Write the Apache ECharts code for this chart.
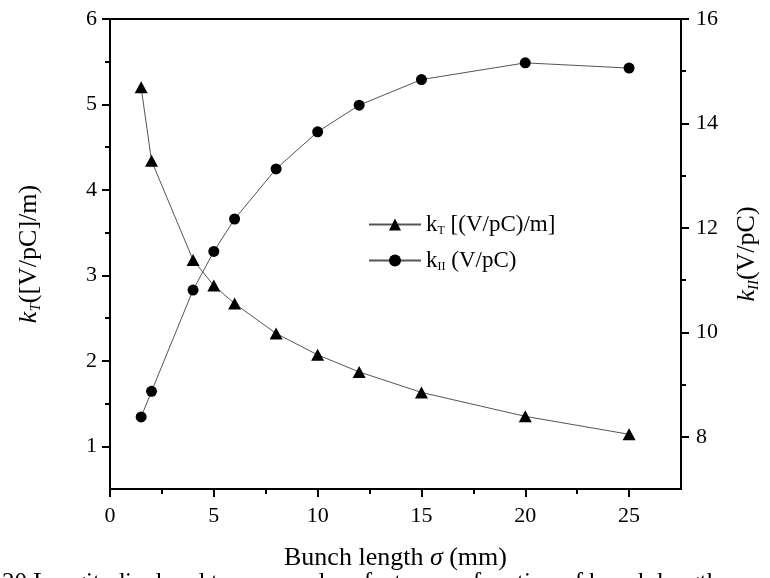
<!DOCTYPE html>
<html><head><meta charset="utf-8">
<script src="https://cdn.jsdelivr.net/npm/echarts@6/dist/echarts.min.js"></script>
<style>html,body{margin:0;padding:0;background:#fff}#c{width:770px;height:578px}</style>
</head><body><div id="c"></div>
<script>
const bunchLength = [1.5, 2, 4, 5, 6, 8, 10, 12, 15, 20, 25];
const kT = [5.2, 4.34, 3.18, 2.88, 2.67, 2.32, 2.07, 1.87, 1.63, 1.35, 1.14];
const kII = [8.38, 8.87, 10.81, 11.55, 12.17, 13.13, 13.84, 14.35, 14.84, 15.16, 15.06];
const xTicks = [0, 5, 10, 15, 20, 25];
const xMinorTicks = [2.5, 7.5, 12.5, 17.5, 22.5];
const leftTicks = [1, 2, 3, 4, 5, 6];
const leftMinorTicks = [1.5, 2.5, 3.5, 4.5, 5.5];
const rightTicks = [8, 10, 12, 14, 16];
const rightMinorTicks = [9, 11, 13, 15];

const FF = "'Liberation Serif','Times New Roman',serif";
const chart = echarts.init(document.getElementById('c'));
const lineAx = {show: true, onZero: false, lineStyle: {color: '#000', width: 2}};
const noLine = {show: false, onZero: false};
const lbl = {fontFamily: FF, fontSize: 22, color: '#000'};
const nameRich = {
  i: {fontFamily: FF, fontSize: 26, fontStyle: 'italic', color: '#000', lineHeight: 29},
  is: {fontFamily: FF, fontSize: 15, fontStyle: 'italic', color: '#000', lineHeight: 15, verticalAlign: 'bottom'},
  n: {fontFamily: FF, fontSize: 26, color: '#000', lineHeight: 29}
};
const legRich = {
  k: {fontFamily: FF, fontSize: 23, color: '#000', lineHeight: 25},
  s: {fontFamily: FF, fontSize: 12, color: '#000', lineHeight: 12, verticalAlign: 'bottom'},
  n: {fontFamily: FF, fontSize: 23, color: '#000', lineHeight: 25}
};
const base = {min: 0, max: 27.5};
chart.setOption({
  animation: false,
  backgroundColor: '#fff',
  grid: {left: 110, right: 79, top: 19, bottom: 89, show: true, borderColor: '#000', borderWidth: 2},
  legend: {
    orient: 'vertical', left: 368, top: 213, padding: 0, itemWidth: 52, itemHeight: 15, itemGap: 12,
    data: ['kT', 'kII'],
    formatter: n => n === 'kT' ? '{k|k}{s|T}{n| [(V/pC)/m]}' : '{k|k}{s|II}{n| (V/pC)}',
    textStyle: {rich: legRich}
  },
  xAxis: [
    {type: 'value', ...base, position: 'bottom', axisLine: lineAx, splitLine: {show: false},
     axisTick: {show: true, length: 8, lineStyle: {width: 2, color: '#000'}, customValues: xTicks},
     axisLabel: {...lbl, margin: 16, customValues: xTicks},
     name: '{n|Bunch length }{i|σ}{n| (mm)}', nameLocation: 'middle', nameGap: 55,
     nameTextStyle: {rich: nameRich}},
    {type: 'value', ...base, position: 'bottom', axisLine: noLine, splitLine: {show: false},
     axisTick: {show: true, length: 5, lineStyle: {width: 2, color: '#000'}, customValues: xMinorTicks},
     axisLabel: {show: false}}
  ],
  yAxis: [
    {type: 'value', min: 0.5, max: 6, position: 'left', axisLine: lineAx, splitLine: {show: false},
     axisTick: {show: true, length: 8, lineStyle: {width: 2, color: '#000'}, customValues: leftTicks},
     axisLabel: {...lbl, margin: 13, customValues: leftTicks},
     name: '{i|k}{is|T}{n|([V/pC]/m)}', nameLocation: 'middle', nameRotate: 90, nameGap: 66,
     nameTextStyle: {rich: nameRich}},
    {type: 'value', min: 7, max: 16, position: 'right', axisLine: lineAx, splitLine: {show: false},
     axisTick: {show: true, length: 8, lineStyle: {width: 2, color: '#000'}, customValues: rightTicks},
     axisLabel: {...lbl, margin: 15, customValues: rightTicks},
     name: '{i|k}{is|II}{n|(V/pC)}', nameLocation: 'middle', nameRotate: 90, nameGap: 52,
     nameTextStyle: {rich: nameRich}},
    {type: 'value', min: 0.5, max: 6, position: 'left', axisLine: noLine, splitLine: {show: false},
     axisTick: {show: true, length: 5, lineStyle: {width: 2, color: '#000'}, customValues: leftMinorTicks},
     axisLabel: {show: false}},
    {type: 'value', min: 7, max: 16, position: 'right', axisLine: noLine, splitLine: {show: false},
     axisTick: {show: true, length: 5, lineStyle: {width: 2, color: '#000'}, customValues: rightMinorTicks},
     axisLabel: {show: false}}
  ],
  series: [
    {type: 'line', name: 'kT', xAxisIndex: 0, yAxisIndex: 0,
     data: bunchLength.map((x, i) => [x, kT[i]]),
     symbol: 'triangle', symbolSize: [13, 12], itemStyle: {color: '#000'},
     lineStyle: {color: '#555', width: 1}},
    {type: 'line', name: 'kII', xAxisIndex: 0, yAxisIndex: 1,
     data: bunchLength.map((x, i) => [x, kII[i]]),
     symbol: 'circle', symbolSize: 11, itemStyle: {color: '#000'},
     lineStyle: {color: '#555', width: 1}}
  ],
  graphic: [{
    type: 'text', left: 2, top: 571,
    style: {text: '20 Longitudinal and transverse loss factor as a function of bunch length',
            fontFamily: FF, fontSize: 25, fill: '#000'}
  }]
});
</script></body></html>
